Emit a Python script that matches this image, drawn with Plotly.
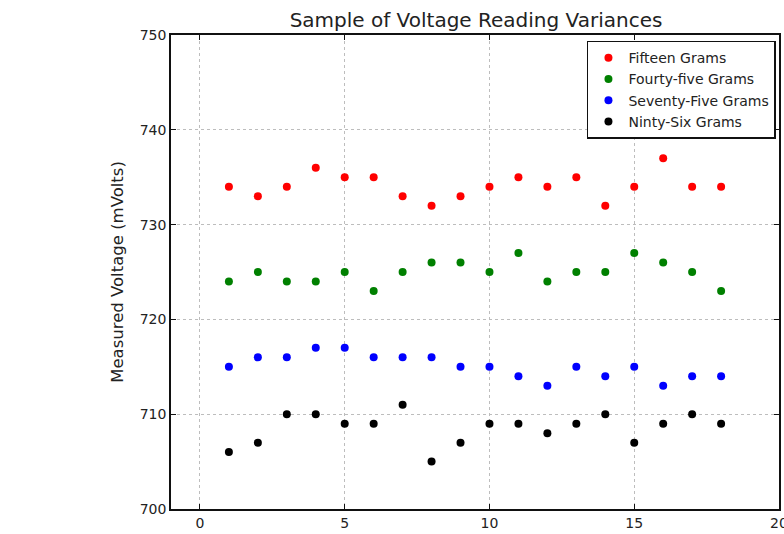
import plotly.graph_objects as go

# Sample index (x) and voltage readings in mV for each mass
samples = list(range(1, 19))
fifteen = [734, 733, 734, 736, 735, 735, 733, 732, 733, 734, 735, 734, 735, 732, 734, 737, 734, 734]
forty_five = [724, 725, 724, 724, 725, 723, 725, 726, 726, 725, 727, 724, 725, 725, 727, 726, 725, 723]
seventy_five = [715, 716, 716, 717, 717, 716, 716, 716, 715, 715, 714, 713, 715, 714, 715, 713, 714, 714]
ninety_six = [706, 707, 710, 710, 709, 709, 711, 705, 707, 709, 709, 708, 709, 710, 707, 709, 710, 709]

series_names = ["Fifteen Grams", "Fourty-five Grams", "Seventy-Five Grams", "Ninty-Six Grams"]
series_values = [fifteen, forty_five, seventy_five, ninety_six]
series_colors = ["#ff0000", "#008000", "#0000ff", "#000000"]

x_ticks = [0, 5, 10, 15, 20]
y_ticks = [700, 710, 720, 730, 740, 750]

FONT = "DejaVu Sans"
TEXT = "#222"

fig = go.Figure()
for name, vals, col in zip(series_names, series_values, series_colors):
    fig.add_trace(go.Scatter(
        x=samples, y=vals, mode="markers", name=name,
        marker=dict(color=col, size=8, symbol="circle", line=dict(width=0)),
    ))

axis_common = dict(
    showline=True, linecolor="#111", linewidth=1.5, mirror="ticks",
    ticks="inside", ticklen=5, tickcolor="#111",
    showgrid=True, gridcolor="#bdbdbd", griddash="dot", gridwidth=1,
    zeroline=False, tickfont=dict(family=FONT, size=14, color=TEXT),
    ticklabeloverflow="allow", automargin=False,
)

fig.update_xaxes(range=[-1, 20], tickvals=x_ticks, **axis_common)
fig.update_yaxes(range=[700, 750], tickvals=y_ticks,
                 title=dict(text="Measured Voltage (mVolts)",
                            font=dict(family=FONT, size=16.5, color=TEXT), standoff=12),
                 **axis_common)

fig.update_layout(
    width=784, height=534,
    margin=dict(l=171, r=5, t=35, b=25),
    paper_bgcolor="white", plot_bgcolor="white",
    title=dict(text="Sample of Voltage Reading Variances", x=476 / 784, xanchor="center",
               y=1 - 20 / 534, yanchor="middle", font=dict(family=FONT, size=20, color=TEXT)),
    legend=dict(x=0.995, y=0.988, xanchor="right", yanchor="top",
                bordercolor="#111", borderwidth=1.5, bgcolor="white",
                font=dict(family=FONT, size=14, color=TEXT),
                tracegroupgap=0, itemwidth=30),
    showlegend=True,
)

fig.write_html("out.html")
